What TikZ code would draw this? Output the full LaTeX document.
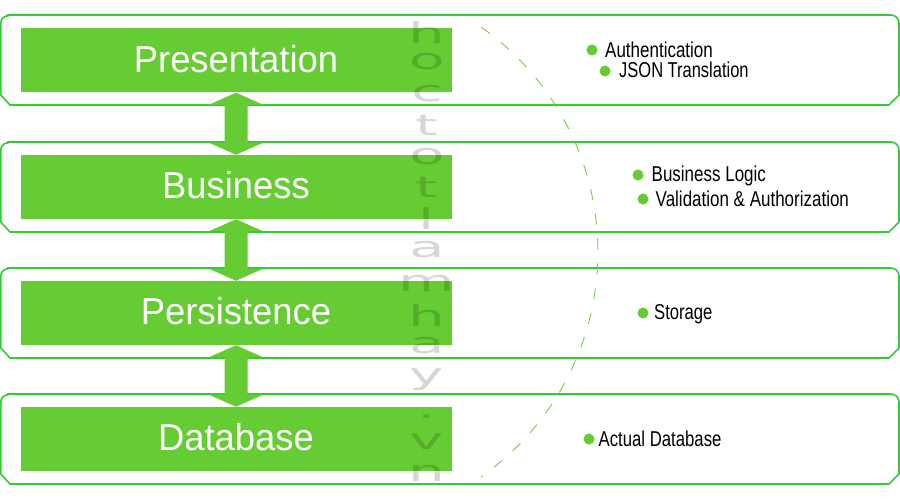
\documentclass[tikz,border=0pt]{standalone}
\usepackage{fontspec}
\setmainfont{Liberation Sans}
\newfontfamily\headfont[FakeStretch=.97]{Liberation Sans}
\newfontfamily\notefont[FakeStretch=.79]{Liberation Sans}
\newfontfamily\markfont[FakeStretch=2.0]{DejaVu Sans}
\definecolor{leaf}{HTML}{66CC33}
\definecolor{rim}{HTML}{33CC33}
\tikzset{
  framebox/.style={draw=rim,line width=1.6pt,fill=white},
  layerbox/.style={fill=leaf,minimum width=431pt,minimum height=64pt,inner sep=0pt,text=white},
  layertext/.style={inner sep=0pt,text=white,font=\headfont\fontsize{37.5}{40}\selectfont},
  twoway/.style={fill=leaf},
  bulletdot/.style={circle,fill=leaf,minimum size=11pt,inner sep=0pt},
  notetext/.style={anchor=west,inner sep=0pt,text=black,font=\notefont\fontsize{21.5}{24}\selectfont},
  markletter/.style={inner sep=0pt,text=black,text opacity=.16,font=\markfont\fontsize{29}{32}\selectfont},
  arcline/.style={draw=leaf,line width=.8pt,dash pattern=on 11pt off 14pt}
}
\newcommand{\layerframe}[1]{%
  \draw[framebox] (8,#1) -- (891,#1) arc[start angle=-90,end angle=0,radius=8]
    -- (899,#1+80) -- (889,#1+90) -- (10,#1+90) -- (0.8,#1+80) -- (0.8,#1+8)
    arc[start angle=180,end angle=270,radius=7.2] -- cycle;}
\newcommand{\twowayarrow}[2]{%
  \path[twoway] (#1.south) -- ++(27,12) -- ++(-15.5,0) |- ($(#2.north)+(11.5,-12)$)
    -- ++(15.5,0) -- (#2.north) -- ++(-27,-12) -- ++(15.5,0) |- ($(#1.south)+(-11.5,12)$)
    -- ++(-15.5,0) -- cycle;}
\usetikzlibrary{calc}
\begin{document}
\begin{tikzpicture}[x=1pt,y=-1pt]
\useasboundingbox (0,0) rectangle (900,500);
\layerframe{15}
\layerframe{142}
\layerframe{268}
\layerframe{394}
\node[layerbox] (pres) at (236,60.5) {};
\node[layerbox] (bus) at (236,187) {};
\node[layerbox] (pers) at (236,313) {};
\node[layerbox] (db) at (236,439) {};
\node[layertext] (presT) at (236,59) {Presentation};
\node[layertext] (busT) at (236,185.5) {Business};
\node[layertext] (persT) at (236,311.5) {Persistence};
\node[layertext] (dbT) at (236,437.5) {Database};
\twowayarrow{pres}{bus}
\twowayarrow{bus}{pers}
\twowayarrow{pers}{db}
\draw[arcline] (481,27) arc[start angle=-54.9,end angle=54.9,radius=275];
\node[bulletdot] (d1) at (592,50) {};
\node[notetext] (t1) at (605,50) {Authentication};
\node[bulletdot] (d2) at (605,71) {};
\node[notetext] (t2) at (619,70) {\scalebox{.97}[1]{JSON Translation}};
\node[bulletdot] (d3) at (638,175) {};
\node[notetext] (t3) at (651.5,176) {Business Logic};
\node[bulletdot] (d4) at (643,199) {};
\node[notetext] (t4) at (655.5,199) {Validation \& Authorization};
\node[bulletdot] (d5) at (643,313) {};
\node[notetext] (t5) at (654,314) {\scalebox{.98}[1]{Storage}};
\node[bulletdot] (d6) at (589,439) {};
\node[notetext] (t6) at (598.5,439) {\scalebox{.985}[1]{Actual Database}};
\foreach \ch/\yy [count=\i] in {h/32,o/62,c/94,t/125,o/157,t/187,l/218,a/250,m/283,h/315,a/346,y/380,./417,v/442,n/473}
  \node[markletter] (m\i) at (427,\yy) {\ch};
\end{tikzpicture}
\end{document}
